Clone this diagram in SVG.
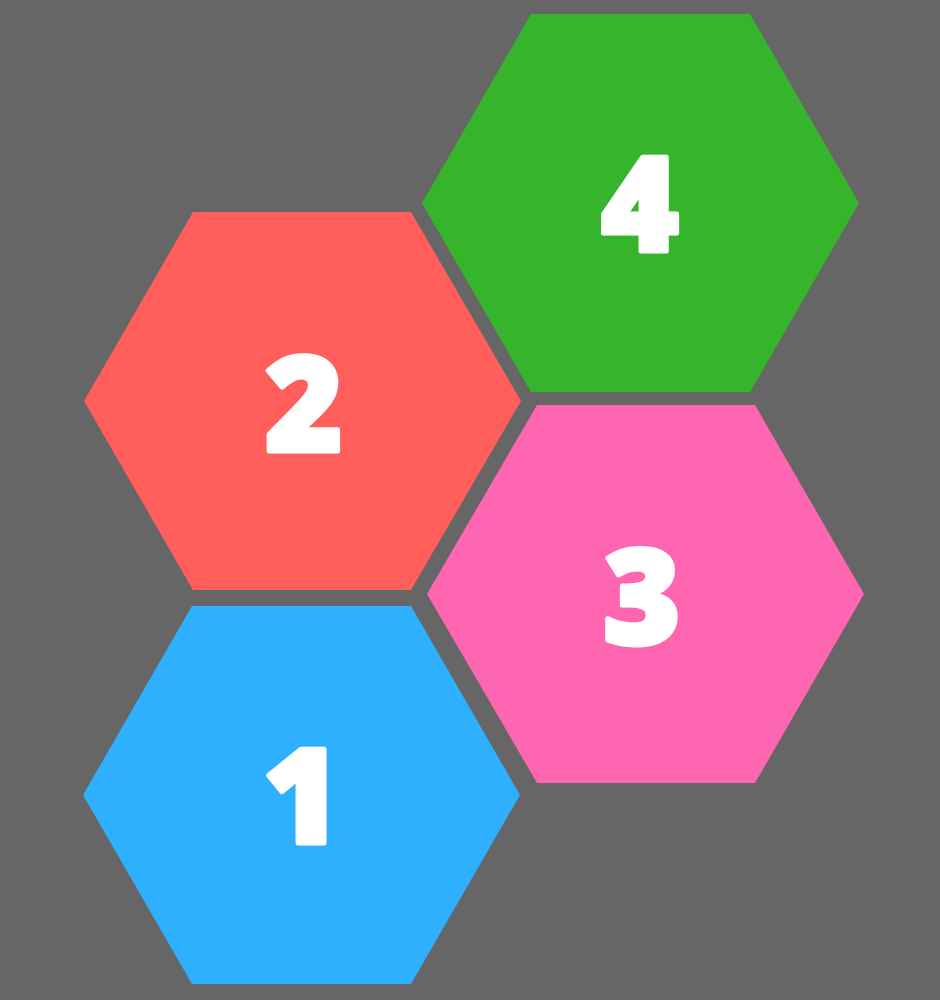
<svg xmlns="http://www.w3.org/2000/svg" width="940" height="1000" viewBox="0 0 940 1000">
<style>
.num{font-family:"Open Sans","DejaVu Sans",sans-serif;font-weight:800;font-size:132px;fill:#ffffff;stroke:#ffffff;stroke-width:5;stroke-linejoin:round;text-anchor:middle}
</style>
<rect width="940" height="1000" fill="#666666"/>
<g id="hex1">
<polygon points="83,795 192,606 411,606 520,795 411,984 192,984" fill="#2EB0FF"/>
<text class="num" x="302" y="843">1</text>
</g>
<g id="hex2">
<polygon points="84,401 193,212 411,212 521,401 411,590 193,590" fill="#FF5E5B"/>
<text class="num" x="304" y="451">2</text>
</g>
<g id="hex3">
<polygon points="427,594 537,405 755,405 864,594 755,783 537,783" fill="#FF66B2"/>
<text class="num" x="642" y="644">3</text>
</g>
<g id="hex4">
<polygon points="422,203 531,14 750,14 859,203 750,392 531,392" fill="#36B52C"/>
<text class="num" x="640" y="251">4</text>
</g>
<g id="connectors"/>
</svg>
